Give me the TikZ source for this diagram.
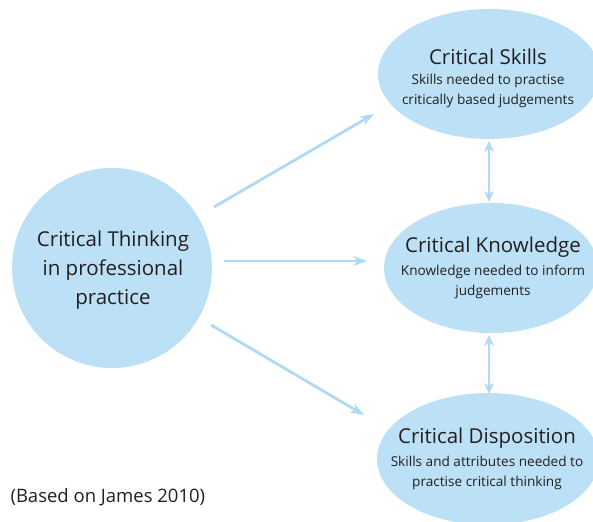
\documentclass[tikz,border=0pt]{standalone}
\usepackage{fontspec}
\setmainfont{Open Sans}
\usetikzlibrary{arrows.meta,shapes.geometric}
\definecolor{bub}{HTML}{BCE0F6}
\definecolor{arr}{HTML}{B0DAF3}
\definecolor{ink}{HTML}{231F20}
\tikzset{
  x=1pt,y=-1pt,
  bubble/.style={ellipse,fill=bub,draw=none,inner sep=0pt},
  title/.style={font=\fontsize{20.5}{24}\selectfont,text=ink},
  sub/.style={font=\fontsize{13.6}{20.5}\selectfont,text=ink,align=center},
  conn/.style={draw=arr,line width=2.8pt,-{Stealth[length=14pt,width=10pt]}},
  dconn/.style={draw=arr,line width=2.8pt,{Stealth[length=11pt,width=10pt]}-{Stealth[length=11pt,width=10pt]}}
}
\begin{document}
\begin{tikzpicture}
\useasboundingbox (0,0) rectangle (593,521);
\clip (0,0) rectangle (593,521);
\node[bubble,minimum width=200pt,minimum height=200pt] (ct) at (112,268) {};
\node[text=ink,align=center,font=\fontsize{20.5}{29}\selectfont] at (113,270) {Critical Thinking\\in professional\\practice};
\node[bubble,minimum width=222pt,minimum height=130pt] (cs) at (489,74) {};
\node[bubble,minimum width=214pt,minimum height=130pt] (ck) at (491,268) {};
\node[bubble,minimum width=222pt,minimum height=132pt] (cd) at (488,459) {};
\node[title] (cst) at (488,57) {Critical Skills};
\node[sub] (css) at (488,91) {Skills needed to practise\\critically based judgements};
\node[title] (ckt) at (493,247) {Critical Knowledge};
\node[sub] (cks) at (493,282) {Knowledge needed to inform\\judgements};
\node[title] (cdt) at (487,438) {Critical Disposition};
\node[sub] (cds) at (487,473) {Skills and attributes needed to\\practise critical thinking};
\node[text=ink,anchor=west,font=\fontsize{18.5}{20}\selectfont] (src) at (7,497) {(Based on James 2010)};
\coordinate (a1s) at (214,207); \coordinate (a1e) at (374,114);
\coordinate (a2s) at (224,261); \coordinate (a2e) at (367,261);
\coordinate (a3s) at (211,325); \coordinate (a3e) at (364,415);
\coordinate (d1s) at (489,141); \coordinate (d1e) at (489,202);
\coordinate (d2s) at (489,335); \coordinate (d2e) at (489,394);
\draw[conn] (a1s) -- (a1e);
\draw[conn] (a2s) -- (a2e);
\draw[conn] (a3s) -- (a3e);
\draw[dconn] (d1s) -- (d1e);
\draw[dconn] (d2s) -- (d2e);
\end{tikzpicture}
\end{document}
